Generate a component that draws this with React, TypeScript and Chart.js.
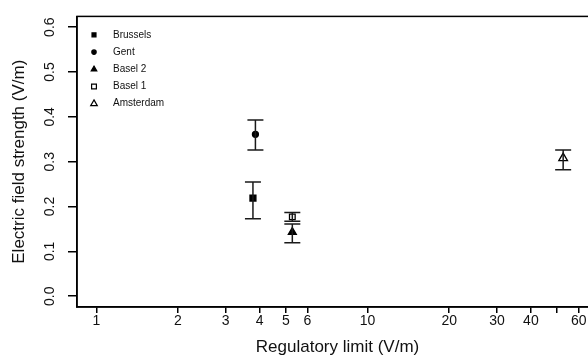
import React, { useEffect, useRef } from 'react';
import { Chart, registerables } from 'chart.js';
import { drawPoint } from 'chart.js/helpers';

Chart.register(...registerables);

// ---- data ----
const sites = ['Brussels', 'Gent', 'Basel 2', 'Basel 1', 'Amsterdam'];
const limits = [3.78, 3.86, 5.28, 5.28, 52.6];
const means = [0.219, 0.361, 0.143, 0.177, 0.308];
const lowers = [0.173, 0.326, 0.119, 0.167, 0.282];
const uppers = [0.255, 0.393, 0.161, 0.187, 0.326];

const xTickValues = [1, 2, 3, 4, 5, 6, 10, 20, 30, 40, 50, 60];
const xTickLabels = ['1', '2', '3', '4', '5', '6', '10', '20', '30', '40', '', '60'];
const yTickValues = [0, 0.1, 0.2, 0.3, 0.4, 0.5, 0.6];
const yTickLabels = ['0.0', '0.1', '0.2', '0.3', '0.4', '0.5', '0.6'];

// ---- styles ----
const markerStyles = ['rect', 'circle', 'triangle', 'rect', 'triangle'];
const markerFilled = [true, true, true, false, false];
const markerRadius = [4.2, 3, 4.6, 4, 5];
const legendRadius = [2.8, 2.2, 3.2, 3.4, 3.8];

const FONT = '"Liberation Sans", Arial, sans-serif';
const INK = '#111';

const errorBarPlugin = {
  id: 'errorBars',
  afterDatasetsDraw(chart: any) {
    const { ctx, scales } = chart;
    const xs = scales.x;
    const ys = scales.y;
    ctx.save();
    ctx.strokeStyle = '#1a1a1a';
    ctx.lineWidth = 1.5;
    const cap = 8;
    for (let i = 0; i < sites.length; i++) {
      const px = xs.getPixelForValue(limits[i]);
      const pLo = ys.getPixelForValue(lowers[i]);
      const pHi = ys.getPixelForValue(uppers[i]);
      ctx.beginPath();
      ctx.moveTo(px, pLo);
      ctx.lineTo(px, pHi);
      ctx.moveTo(px - cap, pLo);
      ctx.lineTo(px + cap, pLo);
      ctx.moveTo(px - cap, pHi);
      ctx.lineTo(px + cap, pHi);
      ctx.stroke();
    }
    ctx.restore();
  },
};

const boxAndLegendPlugin = {
  id: 'boxLegend',
  afterDraw(chart: any) {
    const { ctx, chartArea } = chart;
    ctx.save();
    ctx.strokeStyle = '#000';
    ctx.lineWidth = 1.5;
    ctx.strokeRect(chartArea.left, chartArea.top, chartArea.right - chartArea.left, chartArea.bottom - chartArea.top);

    // legend
    const mx = chartArea.left + 17;
    const tx = chartArea.left + 36;
    ctx.font = `10px ${FONT}`;
    ctx.textBaseline = 'middle';
    ctx.textAlign = 'left';
    for (let i = 0; i < sites.length; i++) {
      const y = chartArea.top + 18.5 + i * 17.2;
      ctx.fillStyle = markerFilled[i] ? '#000' : 'rgba(0,0,0,0)';
      ctx.strokeStyle = '#000';
      ctx.lineWidth = 1.2;
      drawPoint(ctx, { pointStyle: markerStyles[i], radius: legendRadius[i], borderWidth: 1.2, rotation: 0 } as any, mx, y);
      ctx.fillStyle = INK;
      ctx.fillText(sites[i], tx, y);
    }
    ctx.restore();
  },
};

export default function App() {
  const ref = useRef<HTMLCanvasElement | null>(null);

  useEffect(() => {
    if (!ref.current) return;
    const datasets = sites.map((name, i) => ({
      label: name,
      data: [{ x: limits[i], y: means[i] }],
      pointStyle: markerStyles[i],
      pointRadius: markerRadius[i],
      pointBorderWidth: 1.3,
      borderColor: '#000',
      backgroundColor: markerFilled[i] ? '#000' : 'rgba(0,0,0,0)',
      showLine: false,
    }));

    const chart = new Chart(ref.current, {
      type: 'scatter',
      data: { datasets },
      plugins: [errorBarPlugin, boxAndLegendPlugin],
      options: {
        animation: false,
        responsive: false,
        events: [],
        layout: { padding: { top: 14.5, right: 12, left: 0, bottom: 0 } },
        plugins: { legend: { display: false }, tooltip: { enabled: false } },
        scales: {
          x: {
            type: 'logarithmic',
            min: 0.849,
            max: 70.7,
            afterBuildTicks: (s: any) => {
              s.ticks = xTickValues.map((v) => ({ value: v }));
            },
            afterFit: (s: any) => {
              s.height = 54;
            },
            grid: { drawOnChartArea: false, drawTicks: true, tickLength: 6, color: '#000', lineWidth: 1.5 },
            border: { display: true, color: '#000', width: 1.5 },
            ticks: {
              autoSkip: false,
              minRotation: 0,
              maxRotation: 0,
              padding: 0,
              color: INK,
              font: { family: FONT, size: 14 },
              callback: (_v: any, i: number) => xTickLabels[i],
            },
            title: {
              display: true,
              text: 'Regulatory limit (V/m)',
              color: INK,
              font: { family: FONT, size: 17 },
              padding: { top: 0, bottom: 3 },
            },
          },
          y: {
            min: -0.024,
            max: 0.624,
            afterBuildTicks: (s: any) => {
              s.ticks = yTickValues.map((v) => ({ value: v }));
            },
            afterFit: (s: any) => {
              s.width = 77;
            },
            grid: { drawOnChartArea: false, drawTicks: true, tickLength: 9, color: '#000', lineWidth: 1.5 },
            border: { display: true, color: '#000', width: 1.5 },
            ticks: {
              autoSkip: false,
              minRotation: 90,
              maxRotation: 90,
              crossAlign: 'center',
              padding: 8,
              color: INK,
              font: { family: FONT, size: 14 },
              callback: (_v: any, i: number) => yTickLabels[i],
            },
            title: {
              display: true,
              text: 'Electric field strength (V/m)',
              color: INK,
              font: { family: FONT, size: 17 },
              padding: { top: 9.5, bottom: 0 },
            },
          },
        },
      } as any,
    });
    return () => chart.destroy();
  }, []);

  return (
    <div
      style={{
        position: 'absolute',
        left: 0,
        top: 0,
        width: 588,
        height: 361,
        overflow: 'hidden',
        background: '#fff',
      }}
    >
      <canvas ref={ref} width={610} height={361} style={{ display: 'block' }} />
    </div>
  );
}
